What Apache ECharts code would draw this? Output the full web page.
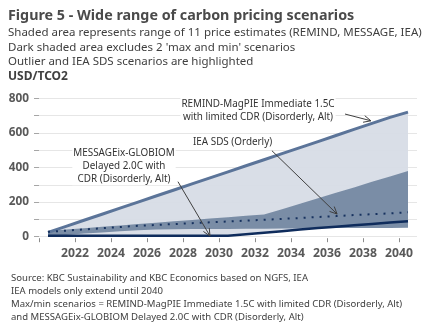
<!DOCTYPE html>
<html>
<head>
<meta charset="utf-8">
<script src="https://cdn.jsdelivr.net/npm/echarts@6/dist/echarts.min.js"></script>
<style>
html,body{margin:0;padding:0;background:#fff;}
#chart{width:432px;height:334px;}
</style>
</head>
<body>
<div id="chart"></div>
<script>
// ---- data ----
const years = [2020,2021,2022,2023,2024,2025,2026,2027,2028,2029,2030,2031,2032,2033,2034,2035,2036,2037,2038,2039,2040];
// REMIND-MagPIE Immediate 1.5C with limited CDR (max)
const maxScenario = [25,60,95,130,165,200,235,270,305,340,375,410,445,480,515,550,585,620,655,690,720];
// MESSAGEix-GLOBIOM Delayed 2.0C with CDR (min)
const minScenario = [5,5,5,5,5,5,5,5,5,5,5,14,23,32,41,50,58,66,74,82,90];
// dark band: excludes max and min
const darkUpper = [33,41,49,57,65,73,81,89,97,105,113,121,129,159,190,222,254,285,317,348,380];
const darkLower = [5,10,18,25,32,38,42,43,44,45,45,46,46,47,48,49,50,50,51,51,52];
// IEA SDS (Orderly)
const ieaSDS = [28,35,42,49,56,63,68,73,78,83,88,93,98,103,108,114,119,125,130,135,141];
// axis ticks
const xTickValues = [2020,2022,2024,2026,2028,2030,2032,2034,2036,2038,2040];
const xLabelValues = [2022,2024,2026,2028,2030,2032,2034,2036,2038,2040];

const titleText = 'Figure 5 - Wide range of carbon pricing scenarios';
const subtitleLines = [
  'Shaded area represents range of 11 price estimates (REMIND, MESSAGE, IEA)',
  "Dark shaded area excludes 2 'max and min' scenarios",
  'Outlier and IEA SDS scenarios are highlighted'
];
const unitText = 'USD/TCO2';
const sourceLines = [
  'Source: KBC Sustainability and KBC Economics based on NGFS, IEA',
  'IEA models only extend until 2040',
  'Max/min scenarios = REMIND-MagPIE Immediate 1.5C with limited CDR (Disorderly, Alt)',
  'and MESSAGEix-GLOBIOM Delayed 2.0C with CDR (Disorderly, Alt)'
];
// annotation arrows in axis (year, value) units
const arrows = [
  {from:[2037.0,709], to:[2038.44,670]},
  {from:[2032.94,497], to:[2036.56,131]},
  {from:[2027.72,318], to:[2029.5,4]}
];

const FONT = '"Noto Sans", "Open Sans", sans-serif';
const chart = echarts.init(document.getElementById('chart'), null, {renderer:'canvas', width:432, height:334});

const diff = (a,b) => a.map((v,i)=>v-b[i]);

const texts = [];
texts.push({type:'text', left:8, top:8.5, style:{text:titleText, font:'bold 14.3px '+FONT, fill:'#4a4a4a'}});
subtitleLines.forEach((t,i)=>texts.push({type:'text', left:8, top:27+i*14.5, style:{text:t, font:'11.5px '+FONT, fill:'#404040'}}));
texts.push({type:'text', left:8, top:71, style:{text:unitText, font:'bold 12px '+FONT, fill:'#404040'}});
sourceLines.forEach((t,i)=>texts.push({type:'text', left:11, top:273.3+i*13.1, style:{text:t, font:'9.55px '+FONT, fill:'#404040'}}));
const annStyle = {font:'9.9px '+FONT, fill:'#333', backgroundColor:'#fff', padding:[0,1]};
texts.push({type:'text', x:258, y:97.5, z:90, style:Object.assign({text:'REMIND-MagPIE Immediate 1.5C\nwith limited CDR (Disorderly, Alt)', align:'center', lineHeight:13.4}, annStyle)});
texts.push({type:'text', x:192, y:136, z:90, style:Object.assign({text:'IEA SDS (Orderly)', align:'left', lineHeight:13}, annStyle)});
texts.push({type:'text', x:124, y:146.5, z:90, style:Object.assign({text:'MESSAGEix-GLOBIOM\nDelayed 2.0C with\nCDR (Disorderly, Alt)', align:'center', lineHeight:12.9}, annStyle)});

const option = {
  animation:false,
  backgroundColor:'#fff',
  grid:{left:39, right:15, top:98.3, bottom:97.3, containLabel:false, outerBoundsMode:'none'},
  xAxis:[
    {type:'category', data:years, boundaryGap:true, show:false},
    {type:'value', min:2020, max:2041, interval:2, position:'bottom',
      axisLine:{show:false}, splitLine:{show:false},
      axisTick:{show:true, length:4, lineStyle:{color:'#8c8c8c'}, customValues:xTickValues},
      axisLabel:{customValues:xLabelValues, margin:9, fontFamily:FONT, fontSize:12.2, fontWeight:'bold', color:'#595959',
        formatter:v => String(v)},
      offset:1.5}
  ],
  yAxis:{type:'value', min:0, max:800, interval:100,
    axisLine:{show:false},
    axisTick:{show:true, length:5, lineStyle:{color:'#a6a6a6'}},
    splitLine:{show:true, lineStyle:{color:'#e6e6e6', width:1}},
    axisLabel:{margin:10, fontFamily:FONT, fontSize:11.8, fontWeight:'bold', color:'#595959',
      formatter:v => (v % 200 === 0 ? String(v) : '')}
  },
  series:[
    {type:'line', xAxisIndex:0, stack:'light', data:minScenario, symbol:'none', lineStyle:{opacity:0}, silent:true},
    {type:'line', xAxisIndex:0, stack:'light', data:diff(maxScenario,minScenario), symbol:'none', lineStyle:{opacity:0}, areaStyle:{color:'#d6dce5', opacity:0.93}, silent:true},
    {type:'line', xAxisIndex:0, stack:'dark', data:darkLower, symbol:'none', lineStyle:{opacity:0}, silent:true},
    {type:'line', xAxisIndex:0, stack:'dark', data:diff(darkUpper,darkLower), symbol:'none', lineStyle:{opacity:0}, areaStyle:{color:'#7689a3', opacity:0.96}, silent:true},
    {type:'line', xAxisIndex:0, name:'REMIND', data:maxScenario, symbol:'none', lineStyle:{color:'#5b7499', width:3}},
    {type:'line', xAxisIndex:0, name:'MESSAGE', data:minScenario, symbol:'none', lineStyle:{color:'#0f2c5c', width:2.5}},
    {type:'line', xAxisIndex:0, name:'IEA SDS', data:ieaSDS, symbol:'none', lineStyle:{color:'#17325f', width:2, type:[2,6], cap:'butt'}}
  ],
  graphic:texts
};
chart.setOption(option);

// arrows, converted from axis units to pixels
const arrowGraphics = [];
arrows.forEach((a,i)=>{
  const p0 = chart.convertToPixel({xAxisIndex:1, yAxisIndex:0}, a.from);
  const p1 = chart.convertToPixel({xAxisIndex:1, yAxisIndex:0}, a.to);
  const dx = p1[0]-p0[0], dy = p1[1]-p0[1];
  const len = Math.sqrt(dx*dx+dy*dy);
  const ux = dx/len, uy = dy/len;
  const L = 8, ang = 25*Math.PI/180;
  const c = Math.cos(ang), s = Math.sin(ang);
  const h1 = [p1[0] - L*(ux*c - uy*s), p1[1] - L*(uy*c + ux*s)];
  const h2 = [p1[0] - L*(ux*c + uy*s), p1[1] - L*(uy*c - ux*s)];
  arrowGraphics.push({type:'line', id:'arr'+i, shape:{x1:p0[0], y1:p0[1], x2:p1[0], y2:p1[1]}, style:{stroke:'#404040', lineWidth:1}, z:100});
  arrowGraphics.push({type:'polyline', id:'head'+i, shape:{points:[h1,p1,h2]}, style:{stroke:'#404040', lineWidth:1, fill:null}, z:100});
});
chart.setOption({graphic: texts.concat(arrowGraphics)});
</script>
</body>
</html>
